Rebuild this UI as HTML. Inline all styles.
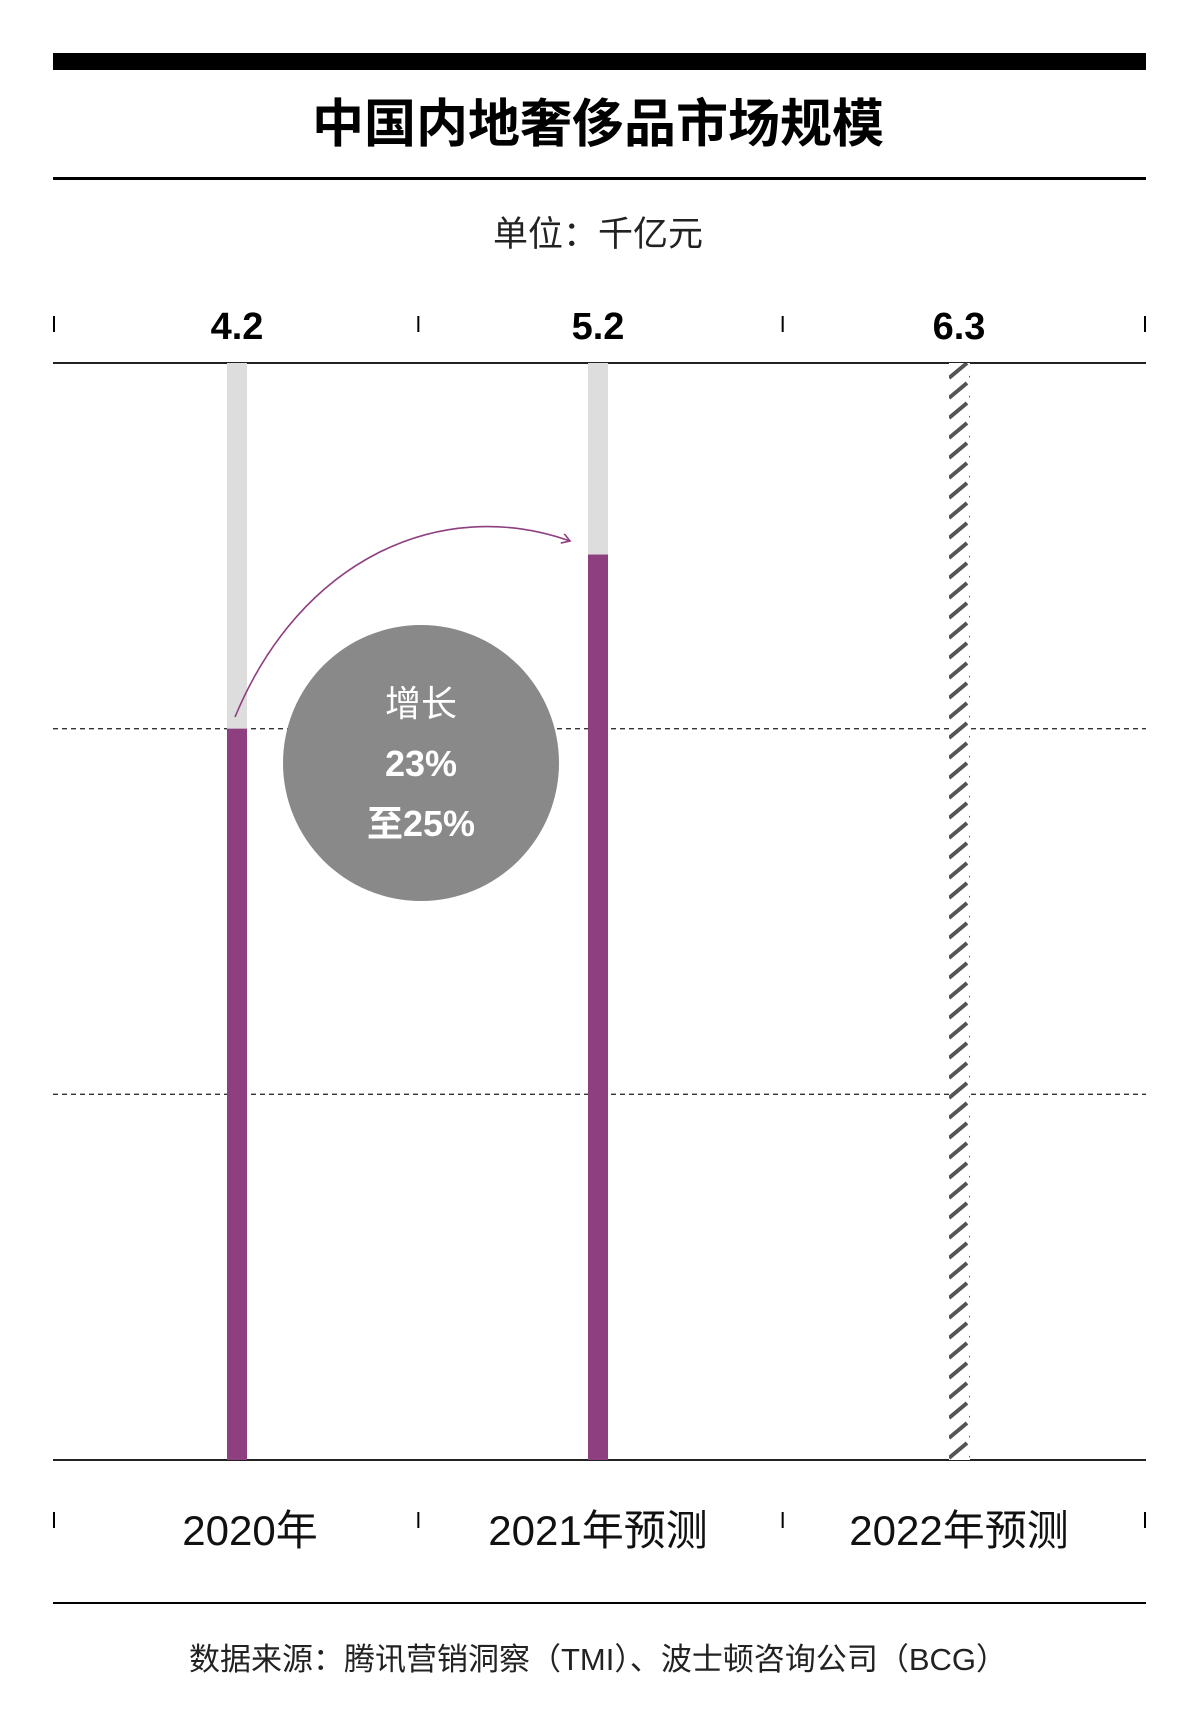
<!DOCTYPE html>
<html><head><meta charset="utf-8"><style>
html,body{margin:0;padding:0;background:#fff;}
svg{display:block;font-family:"Liberation Sans","Noto Sans CJK SC",sans-serif;}
</style></head><body>
<svg id="chart" width="1200" height="1720" viewBox="0 0 1200 1720">
<defs>
<pattern id="hatch" patternUnits="userSpaceOnUse" x="948" y="0" width="21" height="20">
<rect width="21" height="20" fill="#fff"/>
<line x1="1" y1="18" x2="19" y2="3" stroke="#555" stroke-width="4"/>
</pattern>
<marker id="arrowhead" markerWidth="12" markerHeight="12" refX="9" refY="5" orient="auto" markerUnits="userSpaceOnUse">
<path d="M1,0 L9,5 L1,10" fill="none" stroke="#8e3f80" stroke-width="1.6"/>
</marker>
</defs>
<rect x="53" y="53" width="1093" height="17" fill="#000"/>
<text x="598" y="142" text-anchor="middle" font-size="52" font-weight="bold" fill="#000">中国内地奢侈品市场规模</text>
<rect x="53" y="177" width="1093" height="3" fill="#000"/>
<text x="598" y="246" text-anchor="middle" font-size="35" fill="#222">单位：千亿元</text>
<g id="grid"></g>
<g id="bars"></g>
<g id="labels"></g>
<circle cx="421" cy="763" r="138" fill="#898989"/>
<path id="arrow" d="M235,717 C300,560 440,495 570,541" fill="none" stroke="#8e3f80" stroke-width="1.6" marker-end="url(#arrowhead)"/>
<text x="421" y="716" text-anchor="middle" font-size="36" fill="#fff">增长</text>
<text x="421" y="776" text-anchor="middle" font-size="36" font-weight="bold" fill="#fff">23%</text>
<text x="421" y="836" text-anchor="middle" font-size="36" font-weight="bold" fill="#fff">至25%</text>
<rect x="53" y="1602" width="1093" height="2" fill="#000"/>
<text x="598" y="1670" text-anchor="middle" font-size="31" fill="#222">数据来源：腾讯营销洞察（TMI）、波士顿咨询公司（BCG）</text>
</svg>
<script>
const categories = ["2020年", "2021年预测", "2022年预测"];
const values = [4.2, 5.2, 6.3];
const valueLabels = ["4.2", "5.2", "6.3"];
const forecastFlags = [false, false, true];
const gridValues = [2.1, 4.2];
const yMax = 6.3;

const NS = "http://www.w3.org/2000/svg";
const L = 53, R = 1146, TOP = 363, BOT = 1460;
const colW = (R - L) / categories.length;
const BAND0 = 237, BANDSTEP = 361;
function xc(i){ return BAND0 + BANDSTEP * i; }
function y(v){ return BOT - (v / yMax) * (BOT - TOP); }
function mk(tag, attrs, parent){ const e = document.createElementNS(NS, tag); for (const k in attrs) e.setAttribute(k, attrs[k]); parent.appendChild(e); return e; }

const grid = document.getElementById("grid");
const bars = document.getElementById("bars");
const labels = document.getElementById("labels");

gridValues.forEach(g => {
  const ln = mk("line", {x1: L, x2: R, y1: y(g), y2: y(g), stroke: "#333", "stroke-width": 1.3, "stroke-dasharray": "5,4"}, grid);
  
  
});
const topAxis = mk("line", {x1: L, x2: R, y1: TOP, y2: TOP, stroke: "#222", "stroke-width": 2}, grid);



for (let i = 0; i <= categories.length; i++) {
  const tx = i === categories.length ? R - 1 : L + colW * i + 1;
  const t1 = mk("line", {x1: tx, x2: tx, y1: 316, y2: 332, stroke: "#000", "stroke-width": 2}, grid);
  
  
  const t2 = mk("line", {x1: tx, x2: tx, y1: 1512, y2: 1528, stroke: "#000", "stroke-width": 2}, grid);
  
  
}

const BW = 20;
categories.forEach((c, i) => {
  const x = xc(i) - BW / 2;
  if (forecastFlags[i]) {
    const h = mk("rect", {x: x, y: y(values[i]), width: BW + 1, height: BOT - y(values[i]), fill: "url(#hatch)"}, bars);
    
    
  } else {
    const bg = mk("rect", {x: x, y: TOP, width: BW, height: BOT - TOP, fill: "#dcdddc"}, bars);
    
    
    const b = mk("rect", {x: x, y: y(values[i]), width: BW, height: BOT - y(values[i]), fill: "#8e3f80"}, bars);
    
    
  }
  const vl = mk("text", {x: xc(i), y: 339, "text-anchor": "middle", "font-size": 38, "font-weight": "bold", fill: "#000"}, labels);
  vl.textContent = valueLabels[i];
  
  
  const cl = mk("text", {x: xc(i) + (i === 0 ? 13 : 0), y: 1545, "text-anchor": "middle", "font-size": 42, fill: "#111"}, labels);
  cl.textContent = c;
  
  
});
const botAxis = mk("line", {x1: L, x2: R, y1: BOT, y2: BOT, stroke: "#222", "stroke-width": 2}, grid);


</script>
</body></html>
